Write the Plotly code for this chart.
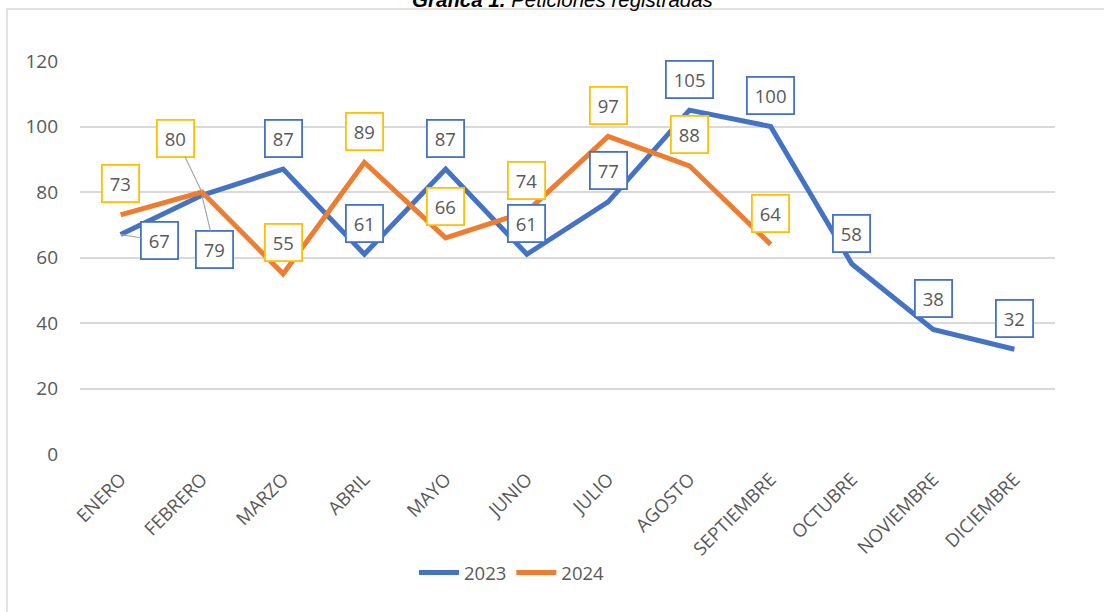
import plotly.graph_objects as go

meses = ["ENERO", "FEBRERO", "MARZO", "ABRIL", "MAYO", "JUNIO", "JULIO",
         "AGOSTO", "SEPTIEMBRE", "OCTUBRE", "NOVIEMBRE", "DICIEMBRE"]
valores_2023 = [67, 79, 87, 61, 87, 61, 77, 105, 100, 58, 38, 32]
valores_2024 = [73, 80, 55, 89, 66, 74, 97, 88, 64]

AZUL = "#4472C4"
NARANJA = "#ED7D31"
DORADO = "#FFC000"
GRIS = "#595959"

# pixel geometry of the plot area
W, H = 1104, 612
L, R, T, B = 80, 49, 61, 158
PW, PH = W - L - R, H - T - B


def px_x(p):
    return (p - L) / PW


def px_y(p):
    return (H - B - p) / PH


fig = go.Figure()
fig.add_trace(go.Scatter(x=meses, y=valores_2023, name="2023", mode="lines",
                         line=dict(color=AZUL, width=5)))
fig.add_trace(go.Scatter(x=meses[:len(valores_2024)], y=valores_2024, name="2024",
                         mode="lines", line=dict(color=NARANJA, width=5)))

# leader-line offsets (pixels) for labels moved away from their points
desplazados = {("2023", 0): (39, 6), ("2023", 1): (13, 54), ("2024", 1): (-26, -54)}


def etiquetas(serie, valores, color):
    for i, v in enumerate(valores):
        base = dict(x=meses[i], y=v, text=str(v), xref="x", yref="y",
                    font=dict(family="Open Sans", size=18.5, color=GRIS),
                    bgcolor="white", bordercolor=color, borderwidth=1.8,
                    borderpad=7, height=21)
        if (serie, i) in desplazados:
            ax, ay = desplazados[(serie, i)]
            fig.add_annotation(**base, showarrow=True, arrowhead=0, arrowwidth=1.2,
                               arrowcolor="#A6A6A6", ax=ax, ay=ay)
        else:
            fig.add_annotation(**base, showarrow=False, yshift=31)


etiquetas("2023", valores_2023, AZUL)
etiquetas("2024", valores_2024, DORADO)

# chart title (partially cut at the top, as in the source image)
fig.add_annotation(xref="paper", yref="paper", x=px_x(562), y=px_y(-1),
                   text="<b><i>Gráfica 1.</i></b><i> Peticiones registradas</i>",
                   showarrow=False, xanchor="center", yanchor="middle",
                   font=dict(family="Liberation Sans", size=20.5, color="black"))

# outer chart border
fig.add_shape(type="rect", xref="paper", yref="paper", x0=px_x(7), x1=px_x(1112),
              y0=px_y(620), y1=px_y(9), line=dict(color="#D9D9D9", width=1.5),
              layer="below")

fig.update_layout(
    width=W, height=H,
    margin=dict(l=L, r=R, t=T, b=B),
    paper_bgcolor="white", plot_bgcolor="white",
    font=dict(family="Open Sans", color=GRIS),
    showlegend=True,
    legend=dict(orientation="h", x=px_x(512), xanchor="center", y=px_y(573),
                yanchor="middle", font=dict(size=18.5, color=GRIS),
                itemwidth=40, tracegroupgap=0),
)
fig.update_xaxes(type="category", categoryorder="array", categoryarray=meses,
                 range=[-0.5, 11.5], showgrid=False, showline=False, zeroline=False,
                 tickangle=-45, tickfont=dict(size=18.5, color=GRIS),
                 ticks="", ticklabelstandoff=10)
fig.update_yaxes(range=[0, 120], dtick=20, showgrid=True, gridcolor="#D9D9D9",
                 gridwidth=1.5, zeroline=False, showline=False, ticks="",
                 tickfont=dict(size=19, color=GRIS), ticklabelstandoff=21)

# drop the default body margin so the figure sits at the page corner
fig.write_html("out.html", config={"displayModeBar": False},
               post_script="document.body.style.margin='0';")
